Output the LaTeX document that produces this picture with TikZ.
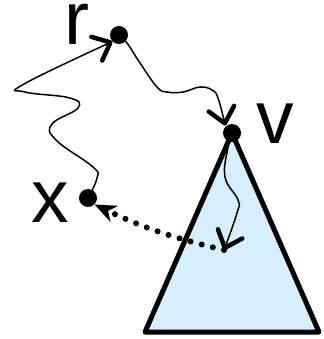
\documentclass[tikz,border=0pt]{standalone}
\usepackage{fontspec}
\setmainfont{Liberation Sans}
\usetikzlibrary{arrows.meta}

\definecolor{treeblue}{RGB}{214,239,252}

\begin{document}
\begin{tikzpicture}[
    x=1pt, y=-1pt,
    vertex/.style={circle, fill=black, inner sep=0pt, minimum size=18pt},
    letter/.style={font=\fontsize{75}{75}\selectfont, inner sep=0pt, anchor=base, text height=40pt, text depth=0pt},
    walk/.style={line width=1.5pt, -{Straight Barb[length=15pt,width=26pt,line width=4.5pt,round]}},
    jump/.style={line width=6pt, line cap=round, dash pattern=on 0pt off 11.5pt, -{Stealth[length=22pt,width=18pt,inset=7pt,line width=0pt]}},
    subtree/.style={draw=black, fill=treeblue, line width=5pt, line join=round}
]
    \useasboundingbox (0,0) rectangle (323,339);

    % subtree below v
    \draw[subtree] (232,133) -- (145,332) -- (319,332) -- cycle;

    \node[vertex] (r) at (119,35) {};
    \node[vertex] (v) at (232,133) {};
    \node[vertex] (x) at (88,198) {};
    \coordinate (leaf) at (224,250);

    \node[letter] (rlabel) at (77,45) {r};
    \node[letter] (vlabel) at (275,143) {v};
    \node[letter] (xlabel) at (50,222) {x};

    \draw[walk] plot[smooth, tension=0.7] coordinates {(x) (97,178) (93,167) (56,140) (52,124) (78,108) (70,98) (25,92) (24,84) (r.south west)};
    \draw[walk, shorten >=1pt] plot[smooth, tension=0.7] coordinates {(r) (127,43) (140,63) (157,87) (167,92) (183,92) (200,87) (212,90) (218,98) (v.north west)};
    \draw[walk] plot[smooth, tension=0.7] coordinates {(v) (228,147) (225,177) (238,200) (237,213) (leaf)};
    \draw[jump] (leaf) to[bend left=6] (x.south east);
\end{tikzpicture}
\end{document}
